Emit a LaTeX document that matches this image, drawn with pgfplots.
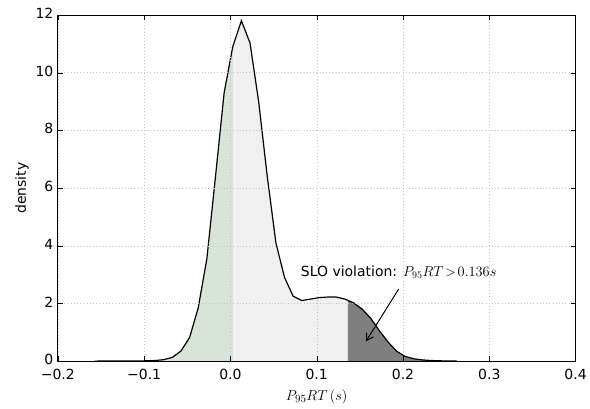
\documentclass[border=0pt]{standalone}
\usepackage{pgfplots}
\pgfplotsset{compat=1.18}
\usepgfplotslibrary{fillbetween}
\usetikzlibrary{arrows.meta}
\usepackage{fontspec}
\setmainfont{DejaVu Sans}
\definecolor{slogreen}{HTML}{D8E4D8}
\definecolor{slolight}{HTML}{F0F0F0}
\definecolor{slodark}{HTML}{7F7F7F}

\begin{document}
\begin{tikzpicture}
\begin{axis}[
    scale only axis,
    width=519pt, height=347pt,
    xmin=-0.2, xmax=0.4,
    ymin=0, ymax=12,
    xtick={-0.2,-0.1,0,0.1,0.2,0.3,0.4},
    xticklabels={−0.2,−0.1,0.0,0.1,0.2,0.3,0.4},
    ytick={0,2,4,6,8,10,12},
    yticklabels={0,2,4,6,8,10,12},
    tick label style={font=\fontsize{14}{16}\selectfont},
    label style={font=\fontsize{14}{16}\selectfont},
    xticklabel style={yshift=-4.5pt},
    yticklabel style={xshift=-1pt, yshift=1.5pt},
    xlabel={$P_{95}RT\,(s)$},
    ylabel={density},
    grid=major,
    major grid style={gray!45, line width=0.4pt, dash pattern=on 0.8pt off 2.4pt},
    tick align=inside,
    major tick length=5pt,
    axis line style={black, line width=0.8pt},
    tick style={black},
    axis on top,
    xlabel style={yshift=-3pt, font=\fontsize{15}{17}\selectfont},
    ylabel style={yshift=0pt},
]
\addplot[name path=curve, draw=none, forget plot] coordinates {
(-0.1573,0) (-0.1073,0.005) (-0.0973,0.01) (-0.0873,0.02) (-0.0773,0.05)
(-0.0673,0.13) (-0.0573,0.35) (-0.0473,0.82) (-0.0373,1.85) (-0.0273,3.55)
(-0.0173,6.4) (-0.0073,9.3) (0.0027,10.9) (0.0127,11.8) (0.0227,11.03)
(0.0327,9.0) (0.0427,6.4) (0.0527,4.1) (0.0627,2.9) (0.0727,2.25)
(0.0827,2.1) (0.0927,2.15) (0.1027,2.2) (0.1127,2.22) (0.1227,2.22)
(0.1327,2.15) (0.1427,2.02) (0.1527,1.8) (0.1627,1.48) (0.1727,1.05)
(0.1827,0.66) (0.1927,0.34) (0.2027,0.16) (0.2127,0.08) (0.2227,0.04)
(0.2327,0.02) (0.2427,0.01) (0.2627,0)
};
\addplot[name path=base, draw=none, forget plot] coordinates {(-0.2,0) (0.4,0)};
\addplot[slogreen, draw=none] fill between[of=curve and base, soft clip={domain=-0.2:0.0035}];
\addplot[slolight, draw=none] fill between[of=curve and base, soft clip={domain=0.0035:0.136}];
\addplot[slodark, draw=none] fill between[of=curve and base, soft clip={domain=0.136:0.4}];
\addplot[black, line width=1.2pt] coordinates {
(-0.1573,0) (-0.1073,0.005) (-0.0973,0.01) (-0.0873,0.02) (-0.0773,0.05)
(-0.0673,0.13) (-0.0573,0.35) (-0.0473,0.82) (-0.0373,1.85) (-0.0273,3.55)
(-0.0173,6.4) (-0.0073,9.3) (0.0027,10.9) (0.0127,11.8) (0.0227,11.03)
(0.0327,9.0) (0.0427,6.4) (0.0527,4.1) (0.0627,2.9) (0.0727,2.25)
(0.0827,2.1) (0.0927,2.15) (0.1027,2.2) (0.1127,2.22) (0.1227,2.22)
(0.1327,2.15) (0.1427,2.02) (0.1527,1.8) (0.1627,1.48) (0.1727,1.05)
(0.1827,0.66) (0.1927,0.34) (0.2027,0.16) (0.2127,0.08) (0.2227,0.04)
(0.2327,0.02) (0.2427,0.01) (0.2627,0)
};
\node[anchor=base west, font=\fontsize{14}{16}\selectfont, inner sep=0pt] at (axis cs:0.0815,2.93) {SLO violation: $P_{95}RT\!>\!0.136s$};
\draw[-{Straight Barb[length=7pt,width=8pt]}, line width=1pt] (axis cs:0.195,2.5) -- (axis cs:0.157,0.68);
\path (rel axis cs:0,0) ++(-58pt,-48pt) coordinate (bbsw);
\path (rel axis cs:1,1) ++(13pt,15pt) coordinate (bbne);
\end{axis}
\path (bbsw) (bbne);
\end{tikzpicture}
\end{document}
